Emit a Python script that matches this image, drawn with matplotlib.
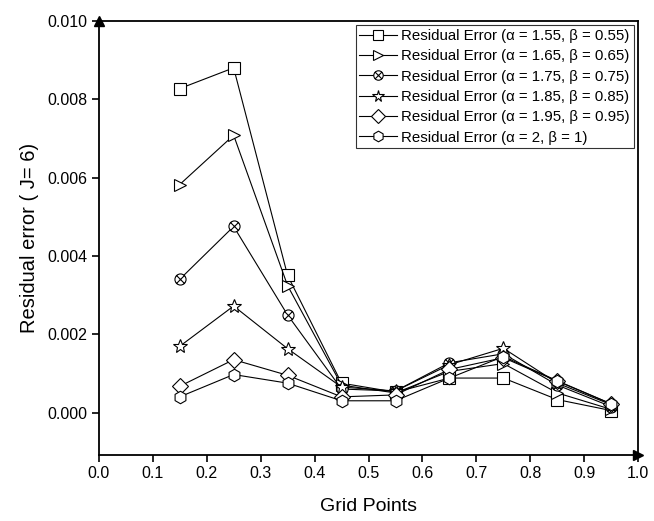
import matplotlib
matplotlib.use("Agg")
import matplotlib.pyplot as plt
import matplotlib.path as mpath
import numpy as np

plt.rcParams['font.family'] = ['Liberation Sans', 'DejaVu Sans']

grid_points = [0.15, 0.25, 0.35, 0.45, 0.55, 0.65, 0.75, 0.85, 0.95]
err_155 = [0.00827, 0.0088, 0.0035, 0.00075, 0.00052, 0.00088, 0.00088, 0.00033, 0.00005]
err_165 = [0.00582, 0.00708, 0.00324, 0.0007, 0.0005, 0.00105, 0.00125, 0.0005, 0.00008]
err_175 = [0.0034, 0.00475, 0.00249, 0.0006, 0.00055, 0.00127, 0.0015, 0.0007, 0.00015]
err_185 = [0.00169, 0.00272, 0.00163, 0.00065, 0.00055, 0.00122, 0.00164, 0.00075, 0.0002]
err_195 = [0.00067, 0.00135, 0.00095, 0.0004, 0.00045, 0.0011, 0.0014, 0.0008, 0.00022]
err_200 = [0.0004, 0.00097, 0.00075, 0.0003, 0.0003, 0.00088, 0.00143, 0.00081, 0.00022]
labels = ["Residual Error (α = 1.55, β = 0.55)",
          "Residual Error (α = 1.65, β = 0.65)",
          "Residual Error (α = 1.75, β = 0.75)",
          "Residual Error (α = 1.85, β = 0.85)",
          "Residual Error (α = 1.95, β = 0.95)",
          "Residual Error (α = 2, β = 1)"]
x_ticks = [0.0, 0.1, 0.2, 0.3, 0.4, 0.5, 0.6, 0.7, 0.8, 0.9, 1.0]
y_ticks = [0.000, 0.002, 0.004, 0.006, 0.008, 0.010]

# circle with X marker
P = mpath.Path
d = 0.7071
xpath = P([(-d, -d), (d, d), (-d, d), (d, -d)], [P.MOVETO, P.LINETO, P.MOVETO, P.LINETO])
circx = P.make_compound_path(P.unit_circle(), xpath)

fig = plt.figure(figsize=(6.54, 5.21), dpi=100)
ax = fig.add_axes([0.151, 0.127, 0.825, 0.833])

series = [err_155, err_165, err_175, err_185, err_195, err_200]
markers = ['s', '>', circx, '*', 'D', 'h']
sizes = [8, 9, 8, 10, 8, 9]
for ys, m, ms, lab in zip(series, markers, sizes, labels):
    ax.plot(grid_points, ys, color='black', lw=0.8, marker=m, markersize=ms,
            mfc='white', mec='black', mew=0.8, label=lab)

ax.set_xlim(0, 1.0)
ax.set_ylim(-0.00108, 0.010)
ax.set_xticks(x_ticks)
ax.set_xticklabels([f"{v:.1f}" for v in x_ticks])
ax.set_yticks(y_ticks)
ax.set_yticklabels([f"{v:.3f}" for v in y_ticks])
ax.tick_params(direction='out', length=5, width=1.2, labelsize=11.5, colors='black', pad=3)
for s in ax.spines.values():
    s.set_linewidth(1.3)
ax.set_xlabel("Grid Points", fontsize=14, labelpad=12)
ax.set_ylabel("Residual error ( J= 6)", fontsize=14.5, labelpad=6)

ax.plot([0], [1], marker='^', color='black', markersize=7, transform=ax.transAxes, clip_on=False)
ax.plot([1], [0], marker='>', color='black', markersize=7, transform=ax.transAxes, clip_on=False)

leg = ax.legend(loc='upper right', fontsize=10.8, frameon=True, fancybox=False,
                edgecolor='black', handlelength=2.5, handletextpad=0.3,
                labelspacing=0.42, borderpad=0.25, borderaxespad=0.3, markerscale=0.85)
leg.get_frame().set_linewidth(0.8)

fig.savefig("out.png", dpi=100)
